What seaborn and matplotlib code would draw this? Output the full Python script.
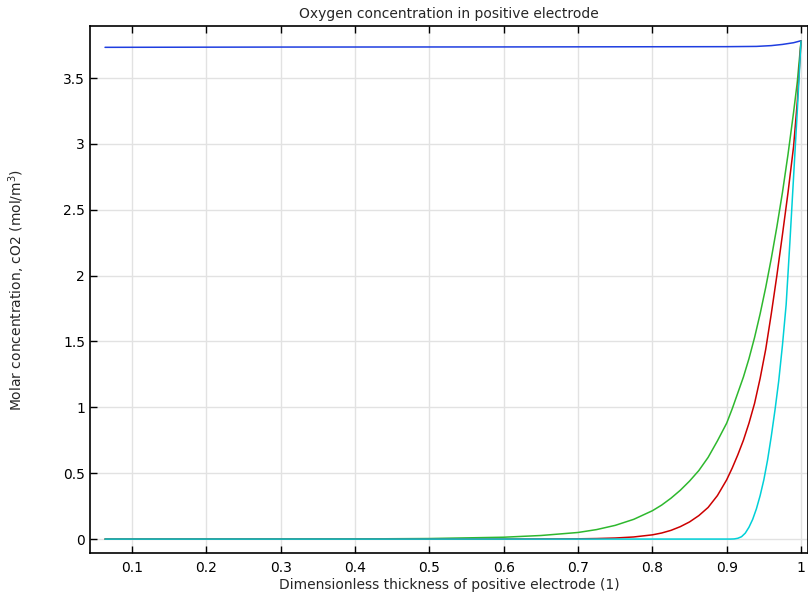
import numpy as np
import pandas as pd
import seaborn as sns
import matplotlib.pyplot as plt
from matplotlib.ticker import FormatStrFormatter, MultipleLocator

# valores
x_blue = [0.0636, 0.3, 0.6, 0.9, 0.94, 0.96, 0.975, 0.99, 1.0]
y_blue = [3.733, 3.735, 3.736, 3.738, 3.740, 3.746, 3.755, 3.768, 3.783]

x_green = [0.0636, 0.2, 0.3, 0.4, 0.5, 0.6, 0.65, 0.7, 0.725, 0.75, 0.775, 0.8, 0.8125,
           0.825, 0.8375, 0.85, 0.8625, 0.875, 0.8875, 0.9, 0.9075, 0.915, 0.9225, 0.93,
           0.9375, 0.945, 0.9525, 0.96, 0.9675, 0.975, 0.9825, 0.99, 0.995, 1.0]
y_green = [0.0, 0.0001, 0.0003, 0.001, 0.004, 0.014, 0.027, 0.05, 0.072, 0.104, 0.15, 0.215, 0.258,
           0.31, 0.37, 0.44, 0.52, 0.62, 0.745, 0.88, 0.99, 1.11, 1.23, 1.37,
           1.53, 1.71, 1.91, 2.13, 2.37, 2.63, 2.92, 3.24, 3.47, 3.78]

x_red = [0.0636, 0.5, 0.6, 0.7, 0.725, 0.75, 0.775, 0.8, 0.8125, 0.825, 0.8375, 0.85, 0.8625,
         0.875, 0.8875, 0.9, 0.9075, 0.915, 0.9225, 0.93, 0.9375, 0.945, 0.9525, 0.96,
         0.9675, 0.975, 0.9825, 0.99, 0.995, 1.0]
y_red = [0.0, 0.0, 0.0003, 0.002, 0.004, 0.008, 0.016, 0.032, 0.046, 0.066, 0.094, 0.13, 0.178,
         0.24, 0.33, 0.45, 0.54, 0.64, 0.75, 0.88, 1.03, 1.22, 1.44, 1.71,
         2.0, 2.31, 2.63, 2.98, 3.32, 3.78]

x_cyan = [0.0636, 0.5, 0.905, 0.91, 0.915, 0.92, 0.925, 0.93, 0.935, 0.94, 0.945, 0.95,
          0.955, 0.96, 0.965, 0.97, 0.975, 0.98, 0.985, 0.99, 0.995, 1.0]
y_cyan = [0.0, 0.0, 0.0, 0.001, 0.006, 0.018, 0.045, 0.09, 0.15, 0.23, 0.33, 0.45,
          0.6, 0.78, 0.98, 1.2, 1.47, 1.78, 2.25, 2.75, 3.25, 3.78]

series = [
    (x_blue, y_blue, '#1f3ee0'),
    (x_green, y_green, '#2eb82e'),
    (x_red, y_red, '#cc0000'),
    (x_cyan, y_cyan, '#00d0d8'),
]

sns.set_style("whitegrid", {'grid.color': '#e2e2e2', 'axes.edgecolor': 'black'})
plt.rcParams['font.family'] = ['DejaVu Sans']

fig = plt.figure(figsize=(8.08, 5.96), dpi=100)
ax = fig.add_axes([0.1114, 0.0721, 0.8886, 0.8843])

for xs, ys, col in series:
    sns.lineplot(x=xs, y=ys, color=col, linewidth=1.1, ax=ax, sort=False)

ax.set_xlim(0.0434, 1.0094)
ax.set_ylim(-0.106, 3.895)
ax.xaxis.set_major_locator(MultipleLocator(0.1))
ax.yaxis.set_major_locator(MultipleLocator(0.5))
ax.xaxis.set_major_formatter(FormatStrFormatter('%g'))
ax.yaxis.set_major_formatter(FormatStrFormatter('%g'))
ax.tick_params(direction='in', length=5, width=1, colors='black', labelsize=10,
               top=True, right=False, bottom=True, left=True)
ax.tick_params(axis='x', pad=6)
for s in ax.spines.values():
    s.set_linewidth(1.2)
    s.set_color('black')
ax.grid(True, linewidth=1)

ax.set_title('Oxygen concentration in positive electrode', fontsize=10, pad=6)
ax.set_xlabel('Dimensionless thickness of positive electrode (1)', fontsize=10, labelpad=2)
ax.set_ylabel('Molar concentration, cO2 (mol/m$^3$)', fontsize=10, labelpad=26)

fig.savefig('out.png', dpi=100)
